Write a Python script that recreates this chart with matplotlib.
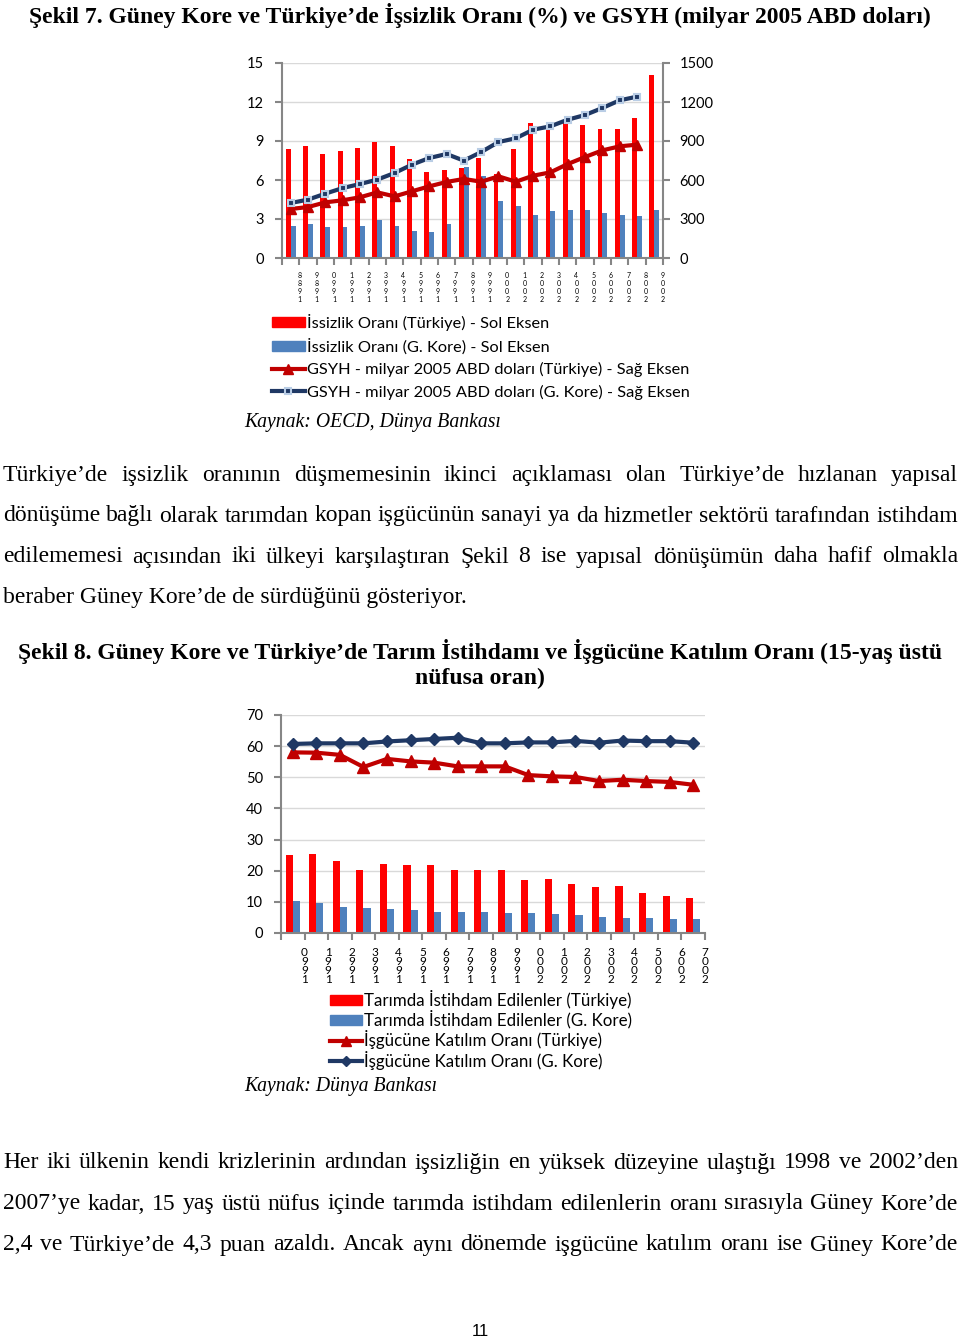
import matplotlib
matplotlib.use('Agg')
import matplotlib.pyplot as plt
import numpy as np
from matplotlib.lines import Line2D
from matplotlib.patches import Patch

# Şekil 7 verileri (1988-2009)
yillar7 = ['1988', '1989', '1990', '1991', '1992', '1993', '1994', '1995', '1996', '1997', '1998',
           '1999', '2000', '2001', '2002', '2003', '2004', '2005', '2006', '2007', '2008', '2009']
issizlik_tr = [8.4, 8.6, 8.0, 8.2, 8.5, 8.9, 8.6, 7.6, 6.6, 6.8, 6.9,
               7.7, 6.5, 8.4, 10.4, 10.5, 10.4, 10.2, 9.9, 9.9, 10.8, 14.1]
issizlik_kr = [2.5, 2.6, 2.4, 2.4, 2.5, 2.9, 2.5, 2.1, 2.0, 2.6, 7.0,
               6.3, 4.4, 4.0, 3.3, 3.6, 3.7, 3.7, 3.5, 3.3, 3.2, 3.7]
gsyh_tr = [377, 392, 428, 444, 467, 505, 474, 513, 551, 585, 608,
           587, 628, 587, 633, 659, 723, 777, 828, 859, 872]
gsyh_kr = [423, 449, 495, 538, 569, 603, 654, 718, 769, 800, 749,
           815, 892, 921, 987, 1013, 1064, 1100, 1154, 1213, 1241]

# Şekil 8 verileri (1990-2007)
yillar8 = ['1990', '1991', '1992', '1993', '1994', '1995', '1996', '1997', '1998',
           '1999', '2000', '2001', '2002', '2003', '2004', '2005', '2006', '2007']
tarim_tr = [25.1, 25.5, 23.1, 20.3, 22.3, 21.9, 21.9, 20.3, 20.3,
            20.3, 17.1, 17.5, 15.6, 14.7, 15.2, 12.8, 12.0, 11.2]
tarim_kr = [10.4, 9.6, 8.4, 7.9, 7.7, 7.3, 6.8, 6.8, 6.8,
            6.4, 6.4, 6.0, 5.7, 5.2, 4.8, 4.8, 4.5, 4.5]
katilim_tr = [58.0, 57.9, 57.2, 53.3, 55.9, 55.1, 54.7, 53.5, 53.5,
              53.5, 50.7, 50.3, 50.1, 48.8, 49.2, 48.8, 48.5, 47.6]
katilim_kr = [60.7, 60.9, 60.9, 60.9, 61.5, 61.9, 62.3, 62.7, 60.9,
              60.9, 61.2, 61.2, 61.7, 61.1, 61.8, 61.6, 61.6, 61.1]

KIRMIZI = '#ff0000'
MAVI = '#4f81bd'
KOYU_KIRMIZI = '#c00000'
LACIVERT = '#1f3864'
GRI = '#868686'
IZGARA = '#d9d9d9'
SANS = 'Lato'
SERIF = 'Liberation Serif'

W, H = 960, 1341
fig = plt.figure(figsize=(W / 100, H / 100), dpi=100)
fig.patch.set_facecolor('white')


def ax_px(l, t, r, b):
    return fig.add_axes([l / W, 1 - b / H, (r - l) / W, (b - t) / H])


def fy(y):
    return 1 - y / H


def dikey(yil):
    return '\n'.join(reversed(yil))


def eksen_stili(ax):
    ax.spines['top'].set_visible(False)
    ax.spines['right'].set_visible(False)
    ax.spines['left'].set_color(GRI)
    ax.spines['bottom'].set_color(GRI)
    ax.spines['left'].set_linewidth(1.5)
    ax.spines['bottom'].set_linewidth(1.5)
    ax.yaxis.grid(True, color=IZGARA, lw=1)
    ax.set_axisbelow(True)
    ax.tick_params(axis='y', direction='out', length=5, width=1.5, color=GRI,
                   labelsize=10.5, pad=8)
    ax.tick_params(axis='x', direction='out', length=5, width=1.5, color=GRI, pad=5)
    for lab in ax.get_yticklabels():
        lab.set_family(SANS)


# ---------------- Şekil 7 ----------------
fig.text(480 / W, fy(15), 'Şekil 7. Güney Kore ve Türkiye’de İşsizlik Oranı (%) ve GSYH (milyar 2005 ABD doları)',
         ha='center', va='center', fontsize=17, fontweight='bold', family=SERIF)

ax1 = ax_px(282, 63, 663, 258)
x7 = np.arange(len(yillar7))
ax1.bar(x7 - 0.14, issizlik_tr, 0.28, color=KIRMIZI, zorder=2)
ax1.bar(x7 + 0.14, issizlik_kr, 0.28, color=MAVI, zorder=2)
ax1.set_ylim(0, 15)
ax1.set_yticks(np.arange(0, 16, 3))
ax1.set_xlim(-0.5, len(yillar7) - 0.5)
ax1.set_xticks(np.arange(-0.5, len(yillar7)))
ax1.set_xticklabels([''] + [dikey(y) for y in yillar7], fontsize=5, linespacing=1.15, family=SANS)
eksen_stili(ax1)

ax1b = ax1.twinx()
ax1b.set_ylim(0, 1500)
ax1b.set_yticks(np.arange(0, 1501, 300))
for s in ['top', 'left', 'bottom']:
    ax1b.spines[s].set_visible(False)
ax1b.spines['right'].set_color(GRI)
ax1b.spines['right'].set_linewidth(1.5)
ax1b.tick_params(axis='y', direction='out', length=5, width=1.5, color=GRI, labelsize=10.5, pad=7)
for lab in ax1b.get_yticklabels():
    lab.set_family(SANS)
x_gsyh = x7[:len(gsyh_tr)]
ax1b.plot(x_gsyh, gsyh_tr, color=KOYU_KIRMIZI, lw=3, marker='^', ms=7, zorder=3)
ax1b.plot(x_gsyh, gsyh_kr, color=LACIVERT, lw=3, marker='s', ms=5,
          mfc=LACIVERT, mec='#b9cde5', mew=1.5, zorder=4)

el7 = [Patch(color=KIRMIZI), Patch(color=MAVI),
       Line2D([], [], color=KOYU_KIRMIZI, lw=3, marker='^', ms=7),
       Line2D([], [], color=LACIVERT, lw=3, marker='s', ms=5, mfc=LACIVERT, mec='#b9cde5', mew=1.5)]
et7 = ['İssizlik Oranı (Türkiye) - Sol Eksen', 'İssizlik Oranı (G. Kore) - Sol Eksen',
       'GSYH - milyar 2005 ABD doları (Türkiye) - Sağ Eksen',
       'GSYH - milyar 2005 ABD doları (G. Kore) - Sağ Eksen']
fig.legend(el7, et7, loc='upper left', bbox_to_anchor=(272 / W, fy(314)), frameon=False,
           prop={'family': SANS, 'size': 11.8}, handlelength=2.0, handletextpad=0.12,
           labelspacing=0.45, borderpad=0, borderaxespad=0, numpoints=1, handleheight=0.55)

fig.text(244 / W, fy(423), 'Kaynak: OECD, Dünya Bankası', ha='left', va='center',
         fontsize=14.2, style='italic', family=SERIF)

# ---------------- metin ----------------
def satir(text, y, fs=17, yasla=True, x0=3, x1=958):
    if not yasla:
        fig.text(x0 / W, fy(y), text, ha='left', va='center', fontsize=fs, family=SERIF)
        return
    kelimeler = text.split(' ')
    objs = [fig.text(0, fy(y), k, ha='left', va='center', fontsize=fs, family=SERIF) for k in kelimeler]
    r = fig.canvas.get_renderer()
    gen = [o.get_window_extent(r).width for o in objs]
    bosluk = (x1 - x0 - sum(gen)) / (len(kelimeler) - 1)
    xx = x0
    for o, g in zip(objs, gen):
        o.set_x(xx / W)
        xx += g + bosluk


satir('Türkiye’de işsizlik oranının düşmemesinin ikinci açıklaması olan Türkiye’de hızlanan yapısal', 476)
satir('dönüşüme bağlı olarak tarımdan kopan işgücünün sanayi ya da hizmetler sektörü tarafından istihdam', 516)
satir('edilememesi açısından iki ülkeyi karşılaştıran Şekil 8 ise yapısal dönüşümün daha hafif olmakla', 557)
satir('beraber Güney Kore’de de sürdüğünü gösteriyor.', 598, yasla=False)

# ---------------- Şekil 8 ----------------
fig.text(480 / W, fy(651), 'Şekil 8. Güney Kore ve Türkiye’de Tarım İstihdamı ve İşgücüne Katılım Oranı (15-yaş üstü',
         ha='center', va='center', fontsize=17, fontweight='bold', family=SERIF)
fig.text(480 / W, fy(678), 'nüfusa oran)', ha='center', va='center', fontsize=17,
         fontweight='bold', family=SERIF)

ax2 = ax_px(281, 715, 705, 933)
x8 = np.arange(len(yillar8))
ax2.bar(x8 - 0.15, tarim_tr, 0.3, color=KIRMIZI, zorder=2)
ax2.bar(x8 + 0.15, tarim_kr, 0.3, color=MAVI, zorder=2)
ax2.plot(x8, katilim_tr, color=KOYU_KIRMIZI, lw=3, marker='^', ms=8, zorder=3)
ax2.plot(x8, katilim_kr, color=LACIVERT, lw=3, marker='D', ms=6, zorder=4)
ax2.set_ylim(0, 70)
ax2.set_yticks(np.arange(0, 71, 10))
ax2.set_xlim(-0.5, len(yillar8) - 0.5)
ax2.set_xticks(np.arange(-0.5, len(yillar8)))
ax2.set_xticklabels([''] + [dikey(y) for y in yillar8], fontsize=8.5, linespacing=0.8, family=SANS)
eksen_stili(ax2)

el8 = [Patch(color=KIRMIZI), Patch(color=MAVI),
       Line2D([], [], color=KOYU_KIRMIZI, lw=3, marker='^', ms=7),
       Line2D([], [], color=LACIVERT, lw=3, marker='D', ms=5)]
et8 = ['Tarımda İstihdam Edilenler (Türkiye)', 'Tarımda İstihdam Edilenler (G. Kore)',
       'İşgücüne Katılım Oranı (Türkiye)', 'İşgücüne Katılım Oranı (G. Kore)']
fig.legend(el8, et8, loc='upper left', bbox_to_anchor=(330 / W, fy(990)), frameon=False,
           prop={'family': SANS, 'size': 12.2}, handlelength=1.9, handletextpad=0.12,
           labelspacing=0.08, borderpad=0, borderaxespad=0, numpoints=1, handleheight=0.55)

fig.text(244 / W, fy(1086), 'Kaynak: Dünya Bankası', ha='left', va='center',
         fontsize=14.2, style='italic', family=SERIF)

satir('Her iki ülkenin kendi krizlerinin ardından işsizliğin en yüksek düzeyine ulaştığı 1998 ve 2002’den', 1163)
satir('2007’ye kadar, 15 yaş üstü nüfus içinde tarımda istihdam edilenlerin oranı sırasıyla Güney Kore’de', 1204)
satir('2,4 ve Türkiye’de 4,3 puan azaldı. Ancak aynı dönemde işgücüne katılım oranı ise Güney Kore’de', 1245)

fig.text(480 / W, fy(1331), '11', ha='center', va='center', fontsize=12, family='Liberation Sans')

fig.savefig('out.png', dpi=100, facecolor='white')
